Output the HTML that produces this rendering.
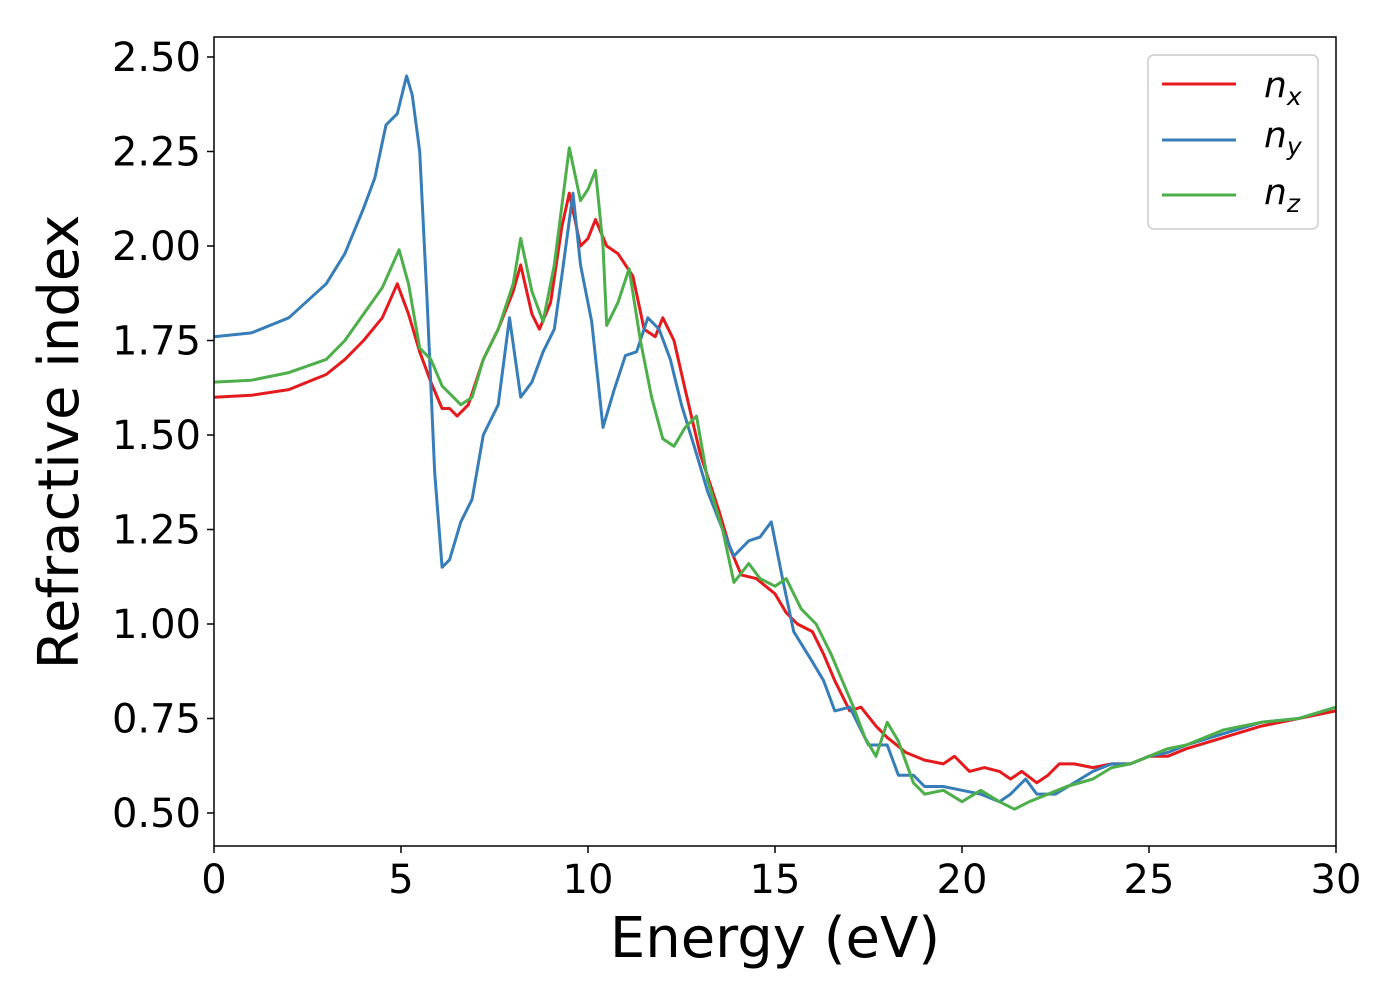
<!DOCTYPE html>
<html><head><meta charset="utf-8"><style>
body{margin:0;background:#fff}
svg text{font-family:"DejaVu Sans","Liberation Sans",sans-serif;fill:#000}
</style></head><body>
<svg id="chart" width="1400" height="1000" xmlns="http://www.w3.org/2000/svg">
<rect x="0" y="0" width="1400" height="1000" fill="#fff"/>
<g id="plot"></g>
<g id="axes"></g>
<text x="775" y="957" font-size="56" text-anchor="middle">Energy (eV)</text>
<text transform="translate(78,442) rotate(-90)" font-size="56" text-anchor="middle">Refractive index</text>
<g>
<rect x="1148" y="55" width="170" height="174" rx="6" fill="#fff" stroke="#ccc" stroke-width="1.5"/>
<g><line x1="1162" y1="84" x2="1236" y2="84" stroke="#e41a1c" stroke-width="3"/><text x="1264" y="97" font-size="36" font-style="italic">n<tspan font-size="25" dy="8">x</tspan></text></g>
<g><line x1="1162" y1="140" x2="1236" y2="140" stroke="#377eb8" stroke-width="3"/><text x="1264" y="147" font-size="36" font-style="italic">n<tspan font-size="25" dy="8">y</tspan></text></g>
<g><line x1="1162" y1="195" x2="1236" y2="195" stroke="#4daf4a" stroke-width="3"/><text x="1264" y="204" font-size="36" font-style="italic">n<tspan font-size="25" dy="8">z</tspan></text></g>
</g>
</svg>
<script>
const xTicks=[0,5,10,15,20,25,30];
const yTicks=[0.5,0.75,1.0,1.25,1.5,1.75,2.0,2.25,2.5];
const yTickLabels=["0.50","0.75","1.00","1.25","1.50","1.75","2.00","2.25","2.50"];
const nxE=[0,1,2,3,3.5,4,4.5,4.9,5.2,5.5,5.8,6.1,6.3,6.5,6.8,7.2,7.6,8.0,8.2,8.5,8.7,9.0,9.3,9.5,9.8,10.0,10.2,10.5,10.8,11.2,11.5,11.8,12.0,12.3,12.6,13.0,13.5,13.8,14.1,14.5,15.0,15.3,15.6,16.0,16.3,16.6,17.0,17.3,17.7,18.0,18.5,19.0,19.5,19.8,20.2,20.6,21.0,21.3,21.6,22.0,22.3,22.6,23.0,23.5,24,24.5,25,25.5,26,27,28,29,30];
const nxV=[1.60,1.605,1.62,1.66,1.70,1.75,1.81,1.90,1.82,1.72,1.64,1.57,1.57,1.55,1.58,1.70,1.78,1.88,1.95,1.82,1.78,1.85,2.05,2.14,2.00,2.02,2.07,2.00,1.98,1.92,1.78,1.76,1.81,1.75,1.62,1.45,1.30,1.20,1.13,1.12,1.08,1.03,1.00,0.98,0.92,0.85,0.77,0.78,0.73,0.70,0.66,0.64,0.63,0.65,0.61,0.62,0.61,0.59,0.61,0.58,0.60,0.63,0.63,0.62,0.63,0.63,0.65,0.65,0.67,0.70,0.73,0.75,0.77];
const nyE=[0,1,2,3,3.5,4,4.3,4.6,4.9,5.15,5.3,5.5,5.7,5.9,6.1,6.3,6.6,6.9,7.2,7.6,7.9,8.2,8.5,8.8,9.1,9.3,9.6,9.8,10.1,10.4,10.7,11.0,11.3,11.6,11.9,12.2,12.5,12.9,13.2,13.6,13.9,14.3,14.6,14.9,15.2,15.5,16.0,16.3,16.6,17.0,17.5,18.0,18.3,18.7,19.0,19.5,20.0,20.5,21.0,21.3,21.7,22.0,22.5,23,23.5,24,24.5,25,25.5,26,27,28,29,30];
const nyV=[1.76,1.77,1.81,1.90,1.98,2.10,2.18,2.32,2.35,2.45,2.40,2.25,1.85,1.40,1.15,1.17,1.27,1.33,1.50,1.58,1.81,1.60,1.64,1.72,1.78,1.92,2.14,1.95,1.80,1.52,1.62,1.71,1.72,1.81,1.78,1.70,1.58,1.45,1.35,1.25,1.18,1.22,1.23,1.27,1.12,0.98,0.90,0.85,0.77,0.78,0.68,0.68,0.60,0.60,0.57,0.57,0.56,0.55,0.53,0.55,0.59,0.55,0.55,0.58,0.61,0.63,0.63,0.65,0.66,0.68,0.71,0.74,0.75,0.78];
const nzE=[0,1,2,3,3.5,4,4.5,4.95,5.2,5.5,5.8,6.1,6.4,6.6,6.9,7.2,7.6,8.0,8.2,8.5,8.8,9.1,9.5,9.8,10.0,10.2,10.4,10.5,10.8,11.1,11.4,11.7,12.0,12.3,12.6,12.9,13.2,13.6,13.9,14.3,14.6,15.0,15.3,15.7,16.1,16.5,16.8,17.1,17.4,17.7,18.0,18.3,18.7,19.0,19.5,20.0,20.5,21.0,21.4,21.8,22.3,22.8,23.5,24,24.5,25,25.5,26,27,28,29,30];
const nzV=[1.64,1.645,1.665,1.70,1.75,1.82,1.89,1.99,1.90,1.73,1.70,1.63,1.60,1.58,1.60,1.70,1.78,1.90,2.02,1.88,1.80,1.95,2.26,2.12,2.15,2.20,2.00,1.79,1.85,1.94,1.75,1.60,1.49,1.47,1.52,1.55,1.38,1.25,1.11,1.16,1.12,1.10,1.12,1.04,1.00,0.92,0.85,0.78,0.70,0.65,0.74,0.69,0.58,0.55,0.56,0.53,0.56,0.53,0.51,0.53,0.55,0.57,0.59,0.62,0.63,0.65,0.67,0.68,0.72,0.74,0.75,0.78];
const NS="http://www.w3.org/2000/svg";
const L=214,R=1336,T=37,B=846;
const sx=v=>L+(v-0)/(30-0)*(R-L);
const sy=v=>813-(v-0.5)/0.25*94.5;
const plot=document.getElementById('plot'),axes=document.getElementById('axes');
function mk(tag,attrs,parent){const e=document.createElementNS(NS,tag);for(const k in attrs)e.setAttribute(k,attrs[k]);parent.appendChild(e);return e;}
const cp=mk('clipPath',{id:'clip'},plot);mk('rect',{x:L,y:T,width:R-L,height:B-T},cp);
function series(E,V,color,name){
  const d=E.map((e,i)=>(i?'L':'M')+sx(e).toFixed(1)+','+sy(V[i]).toFixed(1)).join(' ');
  const p=mk('path',{d:d,fill:'none',stroke:color,'stroke-width':3,'stroke-linejoin':'round','clip-path':'url(#clip)'},plot);
  
  
}
series(nxE,nxV,'#e41a1c','series-nx');
series(nyE,nyV,'#377eb8','series-ny');
series(nzE,nzV,'#4daf4a','series-nz');
const frame=mk('rect',{x:L,y:T,width:R-L,height:B-T,fill:'none',stroke:'#000','stroke-width':1.5},axes);


xTicks.forEach(t=>{
  const x=sx(t);
  mk('line',{x1:x,y1:B,x2:x,y2:B+7,stroke:'#000','stroke-width':1.5},axes);
  const tx=mk('text',{x:x,y:B+47,'font-size':40,'text-anchor':'middle'},axes);
  tx.textContent=t;
  
  
});
yTicks.forEach((t,i)=>{
  const y=sy(t);
  mk('line',{x1:L-7,y1:y,x2:L,y2:y,stroke:'#000','stroke-width':1.5},axes);
  const tx=mk('text',{x:L-13,y:y+14,'font-size':40,'text-anchor':'end'},axes);
  tx.textContent=yTickLabels[i];
  
  
});
</script>
</body></html>
